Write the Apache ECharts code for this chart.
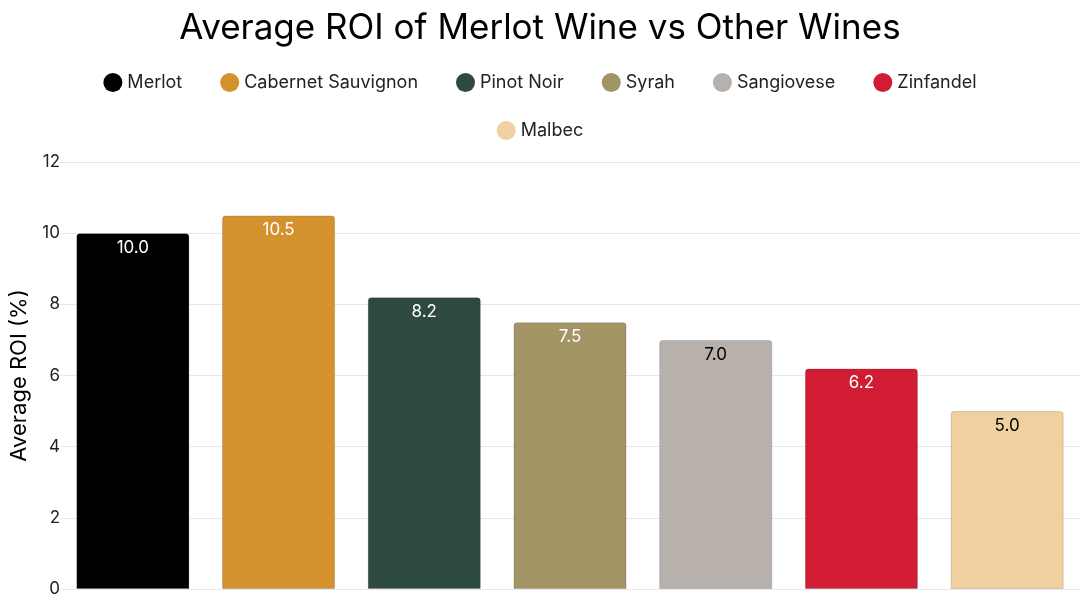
<!DOCTYPE html>
<html><head><meta charset="utf-8">
<script src="https://cdn.jsdelivr.net/npm/echarts@6/dist/echarts.min.js"></script>
<style>html,body{margin:0;padding:0;background:#fff}#c{width:1080px;height:607px}</style>
</head><body><div id="c"></div>
<script>
const categories = ["Merlot","Cabernet Sauvignon","Pinot Noir","Syrah","Sangiovese","Zinfandel","Malbec"];
const values = [10.0,10.5,8.2,7.5,7.0,6.2,5.0];
const colors = ["#000000","#D4922F","#2E4A3E","#A39465","#B8B0AA","#D11C33","#F0D09E"];
const labelColors = ["#fff","#fff","#fff","#fff","#000","#fff","#000"];
const yTicks = [0,2,4,6,8,10,12];
const font = "Inter, 'Noto Sans', sans-serif";
const series = categories.map((name,i)=>({
  name, type:'bar', stack:'all', barCategoryGap:'22.4%',
  data: categories.map((_,j)=> j===i ? values[i] : null),
  itemStyle:{color:colors[i], borderRadius:[3,3,0,0], borderColor:'rgba(0,0,0,0.15)', borderWidth:1},
  label:{show:true, position:'insideTop', formatter:p=>p.value.toFixed(1), color:labelColors[i], fontSize:17, fontFamily:font, distance:6}
}));
const legendBase = {left:'center', itemGap:38, icon:'circle', itemWidth:19, itemHeight:19, itemStyle:{borderWidth:0}, textStyle:{fontSize:18, color:'#222', fontFamily:font}};
const chart = echarts.init(document.getElementById('c'));
chart.setOption({
  animation:false,
  title:{text:'Average ROI of Merlot Wine vs Other Wines', left:'center', top:6, textStyle:{fontSize:35, fontWeight:'normal', color:'#000', fontFamily:font}},
  legend:[
    Object.assign({top:68, data:categories.slice(0,6)}, legendBase),
    Object.assign({top:116, data:categories.slice(6)}, legendBase)
  ],
  grid:{left:56, right:-5, top:162, bottom:18},
  xAxis:{type:'category', data:categories, axisLabel:{show:false}, axisTick:{show:false}, axisLine:{show:false}},
  yAxis:{type:'value', min:0, max:12, interval:2, name:'Average ROI (%)', nameLocation:'middle', nameGap:30, nameTextStyle:{fontSize:22, color:'#000', fontFamily:font},
    axisLabel:{fontSize:17, color:'#222', fontFamily:font, margin:0, formatter:v=>yTicks.includes(v)?String(v):''}, splitLine:{lineStyle:{color:'#e8e8e8'}}},
  series
});
</script></body></html>
